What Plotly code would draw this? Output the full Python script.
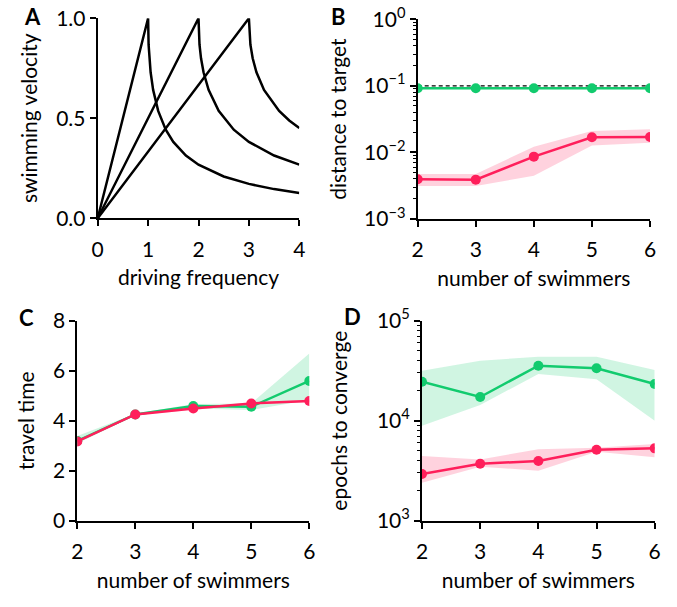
"""Swimmer figure: resonance curves and learning results vs number of swimmers."""

import plotly.graph_objects as go

# --- panel A: swimming velocity vs driving frequency (one curve per natural frequency)
freq_1 = [0, 1.0, 1.01, 1.025, 1.05, 1.1, 1.2, 1.35, 1.5, 1.75, 2.0, 2.5, 3.0, 3.5, 4.0]
vel_1 = [0, 1.0, 0.868, 0.800, 0.730, 0.642, 0.537, 0.443, 0.382, 0.314, 0.268, 0.209, 0.172, 0.146, 0.127]
freq_2 = [0, 2.0, 2.02, 2.05, 2.1, 2.2, 2.4, 2.7, 3.0, 3.5, 4.0]
vel_2 = [0, 1.0, 0.868, 0.800, 0.730, 0.642, 0.537, 0.443, 0.382, 0.314, 0.268]
freq_3 = [0, 3.0, 3.03, 3.075, 3.15, 3.3, 3.6, 3.8, 4.0]
vel_3 = [0, 1.0, 0.868, 0.800, 0.730, 0.642, 0.537, 0.489, 0.451]

# --- panels B-D: results vs number of swimmers
swimmers = [2, 3, 4, 5, 6]
target_threshold = 0.1

dist_green = [0.092, 0.092, 0.092, 0.092, 0.092]
dist_green_lo = [0.089, 0.089, 0.089, 0.089, 0.089]
dist_green_hi = [0.095, 0.095, 0.095, 0.095, 0.095]
dist_red = [0.00395, 0.0039, 0.00865, 0.0169, 0.0171]
dist_red_lo = [0.00313, 0.00313, 0.00448, 0.0127, 0.0140]
dist_red_hi = [0.00475, 0.00475, 0.0122, 0.0210, 0.0223]

time_green = [3.19, 4.25, 4.59, 4.56, 5.59]
time_green_lo = [3.09, 4.22, 4.49, 4.43, 4.83]
time_green_hi = [3.39, 4.28, 4.67, 4.69, 6.69]
time_red = [3.17, 4.25, 4.49, 4.69, 4.79]
time_red_lo = [3.12, 4.22, 4.45, 4.65, 4.75]
time_red_hi = [3.22, 4.28, 4.53, 4.73, 4.83]

epochs_green = [24500, 17250, 35500, 33400, 23250]
epochs_green_lo = [8900, 14350, 29300, 25900, 10000]
epochs_green_hi = [31600, 39800, 43650, 43650, 32100]
epochs_red = [2930, 3715, 3950, 5130, 5290]
epochs_red_lo = [2400, 3470, 3160, 4900, 4300]
epochs_red_hi = [4430, 4100, 5170, 5370, 5840]

dist_ticks = [0.001, 0.01, 0.1, 1]
dist_ticktext = ["10<sup>\u22123</sup>", "10<sup>\u22122</sup>", "10<sup>\u22121</sup>", "10<sup>0</sup>"]
epoch_ticks = [1000, 10000, 100000]
epoch_ticktext = ["10<sup>3</sup>", "10<sup>4</sup>", "10<sup>5</sup>"]

RED = "#FF1F5B"
GREEN = "#12CB6E"
RED_BAND = "rgba(255,31,91,0.2)"
GREEN_BAND = "rgba(18,203,110,0.2)"
FONT = "Lato"

fig = go.Figure()


def band(x, lo, hi, color, xa, ya):
    fig.add_trace(go.Scatter(
        x=x + x[::-1], y=hi + lo[::-1], fill="toself", fillcolor=color,
        line=dict(width=0), mode="lines", hoverinfo="skip",
        xaxis=xa, yaxis=ya, showlegend=False,
    ))


def series(x, y, color, xa, ya):
    fig.add_trace(go.Scatter(
        x=x, y=y, mode="lines+markers", line=dict(color=color, width=2.5),
        marker=dict(color=color, size=10), xaxis=xa, yaxis=ya, showlegend=False,
    ))


# A
for fx, vy in [(freq_1, vel_1), (freq_2, vel_2), (freq_3, vel_3)]:
    fig.add_trace(go.Scatter(x=fx, y=vy, mode="lines", line=dict(color="black", width=2.5),
                             xaxis="x", yaxis="y", showlegend=False))

# B
fig.add_trace(go.Scatter(x=[swimmers[0], swimmers[-1]], y=[target_threshold] * 2, mode="lines",
                         line=dict(color="black", width=1.3, dash="4px,3px"),
                         xaxis="x2", yaxis="y2", showlegend=False))
band(swimmers, dist_green_lo, dist_green_hi, GREEN_BAND, "x2", "y2")
band(swimmers, dist_red_lo, dist_red_hi, RED_BAND, "x2", "y2")
series(swimmers, dist_green, GREEN, "x2", "y2")
series(swimmers, dist_red, RED, "x2", "y2")

# C
band(swimmers, time_green_lo, time_green_hi, GREEN_BAND, "x3", "y3")
band(swimmers, time_red_lo, time_red_hi, RED_BAND, "x3", "y3")
series(swimmers, time_green, GREEN, "x3", "y3")
series(swimmers, time_red, RED, "x3", "y3")

# D
band(swimmers, epochs_green_lo, epochs_green_hi, GREEN_BAND, "x4", "y4")
band(swimmers, epochs_red_lo, epochs_red_hi, RED_BAND, "x4", "y4")
series(swimmers, epochs_green, GREEN, "x4", "y4")
series(swimmers, epochs_red, RED, "x4", "y4")

W, H = 677, 607


def dom_x(a, b):
    return [a / W, b / W]


def dom_y(top, bottom):
    return [1 - bottom / H, 1 - top / H]


axis_style = dict(
    showline=True, linecolor="black", linewidth=2, ticks="outside", ticklen=6,
    tickwidth=2, tickcolor="black", showgrid=False, zeroline=False, automargin=False,
    tickfont=dict(size=21, color="black"), title_font=dict(size=21, color="black"),
)
minor_log = dict(ticks="outside", ticklen=3, tickwidth=1.2, tickcolor="black", dtick="D1")

fig.update_layout(
    width=W, height=H, plot_bgcolor="white", paper_bgcolor="white",
    margin=dict(l=0, r=0, t=0, b=0),
    font=dict(family=FONT, color="black"),
    xaxis=dict(domain=dom_x(97.7, 299.3), anchor="y", range=[0, 4], dtick=1, ticklabelstandoff=5,
               title=dict(text="driving frequency", standoff=11), **axis_style),
    yaxis=dict(domain=dom_y(18.3, 218.3), anchor="x", range=[0, 1],
               tickvals=[0, 0.5, 1.0], ticktext=["0.0", "0.5", "1.0"],
               title=dict(text="swimming velocity", standoff=13), **axis_style),
    xaxis2=dict(domain=dom_x(417.7, 650), anchor="y2", range=[2, 6], dtick=1, ticklabelstandoff=5,
                title=dict(text="number of swimmers", standoff=11), **axis_style),
    yaxis2=dict(domain=dom_y(19.3, 219), anchor="x2", type="log", range=[-3, 0],
                tickvals=dist_ticks, ticktext=dist_ticktext, minor=minor_log,
                title=dict(text="distance to target", standoff=12), **axis_style),
    xaxis3=dict(domain=dom_x(77.3, 309.3), anchor="y3", range=[2, 6], dtick=1, ticklabelstandoff=5,
                title=dict(text="number of swimmers", standoff=11), **axis_style),
    yaxis3=dict(domain=dom_y(320.7, 520.7), anchor="x3", range=[0, 8], dtick=2,
                title=dict(text="travel time", standoff=13), **axis_style),
    xaxis4=dict(domain=dom_x(422, 654.7), anchor="y4", range=[2, 6], dtick=1, ticklabelstandoff=5,
                title=dict(text="number of swimmers", standoff=11), **axis_style),
    yaxis4=dict(domain=dom_y(320.7, 520.7), anchor="x4", type="log", range=[3, 5],
                tickvals=epoch_ticks, ticktext=epoch_ticktext, minor=minor_log,
                title=dict(text="epochs to converge", standoff=24), **axis_style),
)

for label, px, py in [("A", 22, 1), ("B", 329, 1), ("C", 17, 302), ("D", 342, 301)]:
    fig.add_annotation(text=f"<b>{label}</b>", x=px / W, y=1 - py / H,
                       xref="paper", yref="paper", xanchor="left", yanchor="top", showarrow=False,
                       font=dict(size=22, family=FONT, color="black"))

# drop the browser's default body margin so the figure fills the window exactly
fig.write_html("out.html", config={"displayModeBar": False},
               post_script="document.body.style.margin='0px';")
